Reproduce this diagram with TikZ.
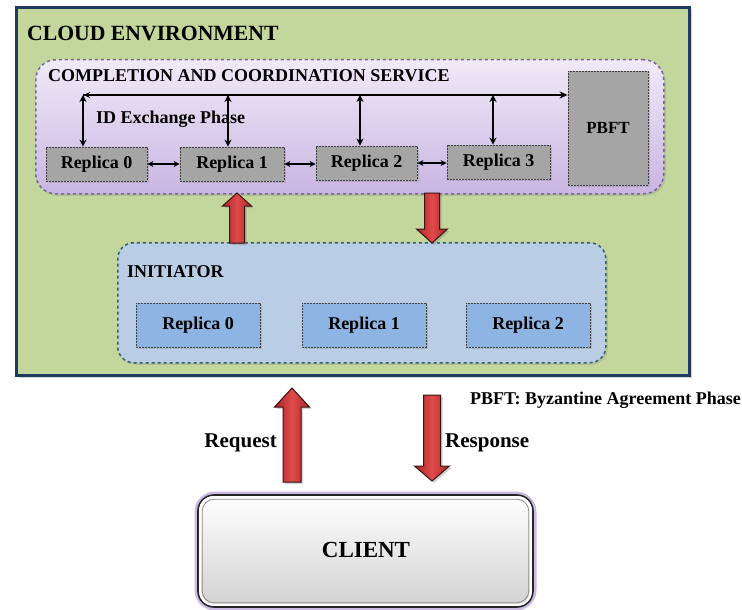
\documentclass[tikz,border=0pt]{standalone}
\usepackage{fontspec}
\setmainfont{Liberation Serif}
\usetikzlibrary{shadows,calc,arrows.meta}
\definecolor{cloudfill}{HTML}{C3D69B}
\definecolor{cloudline}{HTML}{1F3A5F}
\definecolor{compltop}{HTML}{F0EAF8}
\definecolor{complbot}{HTML}{C9B5E2}
\definecolor{complline}{HTML}{7A62A0}
\definecolor{initfill}{HTML}{B9CDE5}
\definecolor{initline}{HTML}{2F6170}
\definecolor{irepfill}{HTML}{8EB4E3}
\definecolor{grepfill}{HTML}{A5A5A5}
\definecolor{redmid}{HTML}{E04A4A}
\definecolor{rededge}{HTML}{A82626}
\definecolor{redline}{HTML}{3A1212}
\definecolor{glow}{HTML}{BFA9DE}
\newcommand{\blockarr}[6]{%
  \draw[redarrow] (#1-#5,#2) -- (#1-#5,#3) -- (#1-#6,#3) -- (#1,#4) -- (#1+#6,#3) -- (#1+#5,#3) -- (#1+#5,#2) -- cycle;}
\begin{document}
\begin{tikzpicture}[x=1pt,y=-1pt,
  lbl/.style={inner sep=0pt, font=\bfseries\fontsize{18}{20}\selectfont},
  cloudbox/.style={draw=cloudline, line width=3pt, fill=cloudfill, inner sep=0pt,
     drop shadow={opacity=0.35, shadow xshift=2pt, shadow yshift=-2pt}},
  complbox/.style={draw=complline, line width=1.5pt, dashed, rounded corners=20pt,
     top color=compltop, bottom color=complbot, inner sep=0pt,
     drop shadow={opacity=0.25, shadow xshift=2pt, shadow yshift=-2pt}},
  initbox/.style={draw=initline, line width=1.5pt, dashed, rounded corners=16pt,
     fill=initfill, inner sep=0pt,
     drop shadow={opacity=0.25, shadow xshift=2pt, shadow yshift=-2pt}},
  grep/.style={draw=black!75, line width=0.8pt, dash pattern=on 2pt off 1pt, fill=grepfill,
     inner sep=0pt, font=\bfseries\fontsize{18}{20}\selectfont,
     drop shadow={opacity=0.3, shadow xshift=1.5pt, shadow yshift=-1.5pt}},
  irep/.style={draw=black!75, line width=0.8pt, dash pattern=on 2pt off 1pt, fill=irepfill,
     inner sep=0pt, minimum width=124pt, minimum height=44pt,
     font=\bfseries\fontsize{18}{20}\selectfont,
     drop shadow={opacity=0.3, shadow xshift=1.5pt, shadow yshift=-1.5pt}},
  redarrow/.style={draw=redline, line width=1pt, left color=rededge, right color=rededge, middle color=redmid,
     drop shadow={opacity=0.35, shadow xshift=2pt, shadow yshift=-2pt}},
  dbl/.style={{Stealth[length=6pt,width=6pt]}-{Stealth[length=6pt,width=6pt]}, line width=1.1pt, black},
  vdbl/.style={{Stealth[length=7pt,width=7pt]}-{Stealth[length=7pt,width=7pt]}, line width=1.6pt, black},
]
\useasboundingbox (0,0) rectangle (742,610);
\fill[white] (0,0) rectangle (742,610);

% cloud environment
\node[cloudbox, minimum width=673pt, minimum height=368pt, anchor=north west] (cloud) at (15,6) {};
\node[lbl, anchor=west, font=\bfseries\fontsize{21.7}{24}\selectfont] (cloudt) at (27,33) {CLOUD ENVIRONMENT};

% completion and coordination service
\node[complbox, minimum width=628pt, minimum height=134pt, anchor=north west] (compl) at (35,59) {};
\node[lbl, anchor=west] (complt) at (48,76) {COMPLETION AND COORDINATION SERVICE};
\node[lbl, anchor=west] (idx) at (96,119) {ID Exchange Phase};

\node[grep, minimum width=101pt, minimum height=34pt] (r0) at (96.5,164) {Replica 0};
\node[grep, minimum width=104pt, minimum height=34pt] (r1) at (232,164) {Replica 1};
\node[grep, minimum width=101pt, minimum height=34pt] (r2) at (366.5,163) {Replica 2};
\node[grep, minimum width=103pt, minimum height=34pt] (r3) at (498.5,162) {Replica 3};
\node[grep, minimum width=80pt, minimum height=114pt, font=\bfseries\fontsize{17}{20}\selectfont] (pbft) at (608,128) {PBFT};

\coordinate (t0) at (83,95);
\coordinate (t1) at (228,95);
\coordinate (t2) at (360,95);
\coordinate (t3) at (493,95);
\draw[-{Stealth[length=8pt,width=7pt]}, line width=1.7pt] (t0) -- (t0 -| pbft.west);
\draw[{Stealth[length=6pt,width=6pt]}-, line width=1.2pt] ([xshift=1pt]t0) -- ++(10,0);
\draw[vdbl] (t0) -- (t0 |- r0.north);
\draw[vdbl] (t1) -- (t1 |- r1.north);
\draw[vdbl] (t2) -- (t2 |- r2.north);
\draw[vdbl] (t3) -- (t3 |- r3.north);
\draw[dbl] (r0.east) -- (r0.east -| r1.west);
\draw[dbl] (r1.east) -- (r1.east -| r2.west);
\draw[dbl] (r2.east) -- (r2.east -| r3.west);

% initiator
\node[initbox, minimum width=488pt, minimum height=120pt, anchor=north west] (init) at (117,242) {};
\node[lbl, anchor=west] (initt) at (127,272) {INITIATOR};
\node[irep] (i0) at (198,325) {Replica 0};
\node[irep] (i1) at (364,325) {Replica 1};
\node[irep] (i2) at (528,325) {Replica 2};

% block arrows between initiator and service
\blockarr{237}{243}{206}{193}{7.5}{14.5}
\blockarr{432}{193}{229}{243}{7.5}{15.5}

% client
\draw[glow, line width=7pt, rounded corners=17pt, opacity=0.8] (198,495) rectangle (533,607);
\node[draw=black!85, line width=1.6pt, rounded corners=16pt, top color=white, bottom color=black!18,
      minimum width=335pt, minimum height=112pt, inner sep=0pt] (client) at (365.5,551) {};
\draw[white, line width=2pt, rounded corners=13pt] ($(client.north west)+(3,3)$) rectangle ($(client.south east)+(-3,-3)$);
\draw[black!45, line width=0.8pt, rounded corners=12pt] ($(client.north west)+(5,5)$) rectangle ($(client.south east)+(-5,-5)$);
\node[lbl, font=\bfseries\fontsize{23}{26}\selectfont] (clientt) at (366,550) {CLIENT};

% request / response
\blockarr{292}{482}{407}{388}{9}{17.5}
\blockarr{432}{395}{466}{481}{8.5}{17.5}
\node[lbl, anchor=east, font=\bfseries\fontsize{21}{24}\selectfont] (req) at (277,443) {Request};
\node[lbl, anchor=west, font=\bfseries\fontsize{21}{24}\selectfont] (resp) at (445,443) {Response};
\node[lbl, anchor=east] (legend) at (741,400) {PBFT: Byzantine Agreement Phase};
\end{tikzpicture}
\end{document}
